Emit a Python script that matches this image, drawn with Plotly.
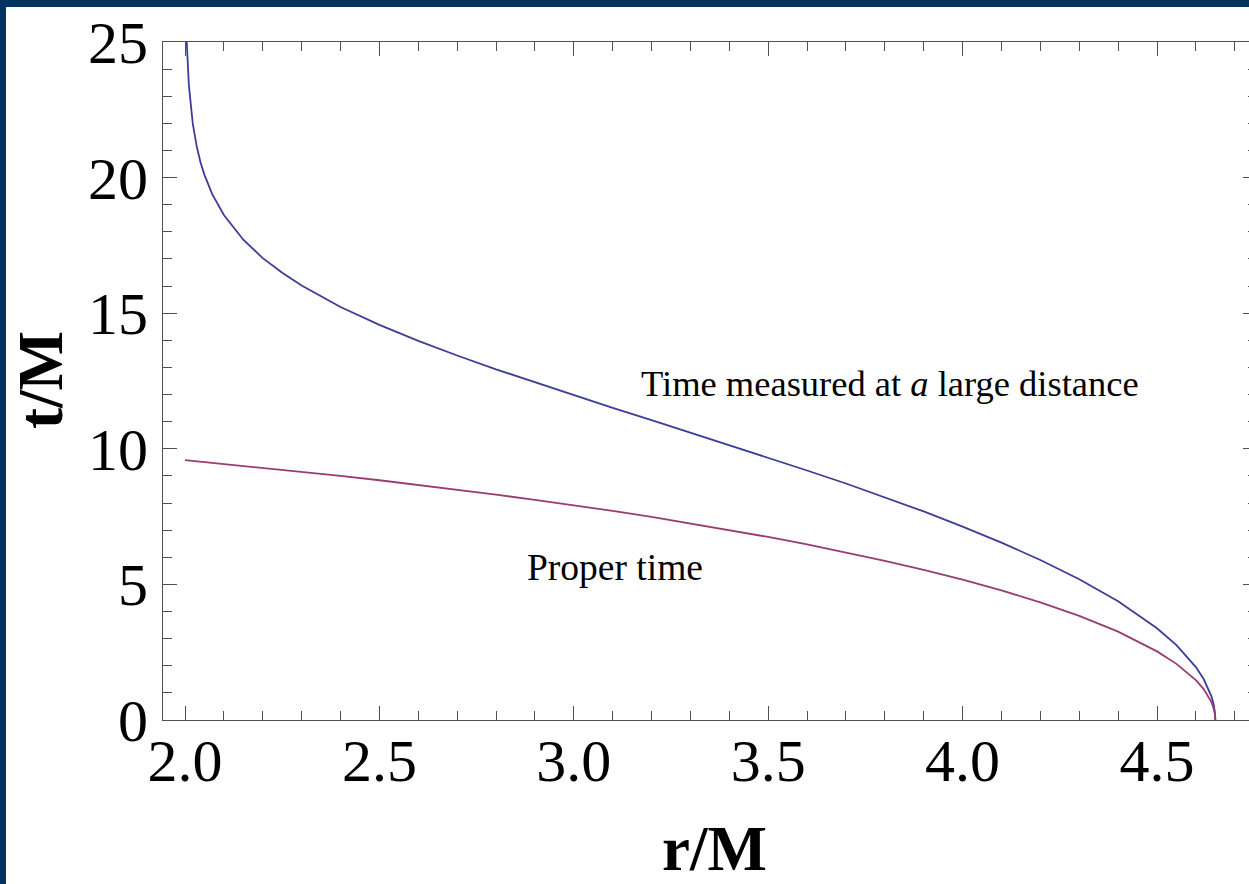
import plotly.graph_objects as go

# ---- data ----
r_coord = [2.0045, 2.005, 2.01, 2.02, 2.03, 2.04, 2.05, 2.07, 2.1, 2.15,
           2.2, 2.25, 2.3, 2.4, 2.5, 2.6, 2.7, 2.8, 2.9, 3.0,
           3.1, 3.2, 3.3, 3.4, 3.5, 3.6, 3.7, 3.8, 3.9, 4.0,
           4.1, 4.2, 4.3, 4.4, 4.5, 4.55, 4.6, 4.62, 4.64, 4.645,
           4.649, 4.65]
t_coord = [25.00, 24.79, 23.39, 21.99, 21.16, 20.56, 20.10, 19.39, 18.62, 17.71,
           17.03, 16.49, 16.02, 15.23, 14.57, 13.98, 13.44, 12.93, 12.45, 11.98,
           11.51, 11.06, 10.60, 10.14, 9.68, 9.20, 8.72, 8.21, 7.69, 7.13,
           6.54, 5.90, 5.19, 4.38, 3.38, 2.76, 1.95, 1.51, 0.87, 0.62,
           0.28, 0.0]

r_proper = [2.0, 2.05, 2.1, 2.2, 2.3, 2.4, 2.5, 2.6, 2.7, 2.8,
            2.9, 3.0, 3.1, 3.2, 3.3, 3.4, 3.5, 3.6, 3.7, 3.8,
            3.9, 4.0, 4.1, 4.2, 4.3, 4.4, 4.5, 4.55, 4.6, 4.62,
            4.64, 4.645, 4.649, 4.65]
tau_proper = [9.58, 9.51, 9.44, 9.30, 9.15, 9.00, 8.84, 8.67, 8.49, 8.31,
              8.12, 7.92, 7.71, 7.49, 7.25, 7.01, 6.75, 6.48, 6.18, 5.87,
              5.54, 5.18, 4.78, 4.34, 3.84, 3.26, 2.53, 2.07, 1.47, 1.14,
              0.66, 0.46, 0.21, 0.0]

x_ticks = [2.0, 2.5, 3.0, 3.5, 4.0, 4.5]
x_ticklabels = ["2.0", "2.5", "3.0", "3.5", "4.0", "4.5"]
y_ticks = [0, 5, 10, 15, 20, 25]
y_ticklabels = ["0", "5", "10", "15", "20", "25"]

label_far = "Time measured at <i>a</i> large distance"
label_proper = "Proper time"
label_far_pos = (3.813, 12.39)
label_proper_pos = (3.107, 5.64)
x_title = "r/M"
y_title = "t/M"

# ---- layout constants ----
W, H = 1249, 884
ML, MR, MT, MB = 163, 0, 42, 164
BORDER = "#02335f"
SERIF = "Liberation Serif"
AXIS_COL = "#505050"

pw = W - ML - MR
ph = H - MT - MB

fig = go.Figure()
fig.add_trace(go.Scatter(x=r_coord, y=t_coord, mode="lines",
                         line=dict(color="#3d3d99", width=1.8),
                         showlegend=False, hoverinfo="skip"))
fig.add_trace(go.Scatter(x=r_proper, y=tau_proper, mode="lines",
                         line=dict(color="#993d71", width=1.8),
                         showlegend=False, hoverinfo="skip"))
# empty trace to carry the right-hand (mirrored) tick axis
fig.add_trace(go.Scatter(x=[], y=[], yaxis="y2", showlegend=False, hoverinfo="skip"))

fig.add_annotation(x=label_far_pos[0], y=label_far_pos[1], text=label_far,
                   showarrow=False, xanchor="center", yanchor="middle",
                   font=dict(family=SERIF, size=36.5, color="black"))
fig.add_annotation(x=label_proper_pos[0], y=label_proper_pos[1], text=label_proper,
                   showarrow=False, xanchor="center", yanchor="middle",
                   font=dict(family=SERIF, size=37.5, color="black"))

# axis titles
fig.add_annotation(xref="paper", yref="paper", x=(714 - ML) / pw, y=(H - MB - 849) / ph,
                   text=x_title, showarrow=False, xanchor="center", yanchor="middle",
                   font=dict(family=SERIF, size=63, color="black", weight="bold"))
fig.add_annotation(xref="paper", yref="paper", x=(41 - ML) / pw, y=(H - MB - 380) / ph,
                   text=y_title, showarrow=False, xanchor="center", yanchor="middle",
                   textangle=-90,
                   font=dict(family=SERIF, size=63, color="black", weight="bold"))

# slide border (top and left)
fig.add_shape(type="rect", xref="paper", yref="paper", layer="above",
              x0=-ML / pw - 0.02, x1=1 + 0.02,
              y0=1 + (MT - 7) / ph, y1=1 + MT / ph + 0.02,
              fillcolor=BORDER, line=dict(width=0))
fig.add_shape(type="rect", xref="paper", yref="paper", layer="above",
              x0=-ML / pw - 0.02, x1=-(ML - 6) / pw,
              y0=-MB / ph - 0.02, y1=1 + MT / ph + 0.02,
              fillcolor=BORDER, line=dict(width=0))

px_per_unit = 388.8
x_lo = 2.0 - (185 - ML) / px_per_unit
x_hi = 2.0 + (W - MR - 185) / px_per_unit

fig.update_xaxes(range=[x_lo, x_hi], tickvals=x_ticks, ticktext=x_ticklabels,
                 ticks="inside", ticklen=14, tickwidth=1, tickcolor=AXIS_COL,
                 minor=dict(dtick=0.1, tick0=2.0, ticks="inside", ticklen=9,
                            tickwidth=1, tickcolor=AXIS_COL, showgrid=False),
                 showline=True, linecolor=AXIS_COL, linewidth=1, mirror="ticks",
                 showgrid=False, zeroline=False,
                 tickfont=dict(family=SERIF, size=60, color="black"),
                 ticklabelstandoff=-12)
fig.update_layout(
    yaxis=dict(range=[0, 25], tickvals=y_ticks, ticktext=y_ticklabels,
               ticks="inside", ticklen=14, tickwidth=1, tickcolor=AXIS_COL,
               minor=dict(dtick=1, tick0=0, ticks="inside", ticklen=9,
                          tickwidth=1, tickcolor=AXIS_COL, showgrid=False),
               showline=True, linecolor=AXIS_COL, linewidth=1, mirror=False,
               showgrid=False, zeroline=False,
               tickfont=dict(family=SERIF, size=60, color="black"),
               ticklabelstandoff=2),
    yaxis2=dict(overlaying="y", side="right", range=[0, 25], tickvals=y_ticks,
                ticks="inside", ticklen=6, tickwidth=1, tickcolor=AXIS_COL,
                minor=dict(dtick=1, tick0=0, ticks="inside", ticklen=1.5,
                           tickwidth=1, tickcolor=AXIS_COL, showgrid=False),
                showticklabels=False, showline=False, showgrid=False, zeroline=False),
)

fig.update_layout(width=W, height=H, margin=dict(l=ML, r=MR, t=MT, b=MB, pad=0),
                  paper_bgcolor="white", plot_bgcolor="white", showlegend=False)

fig.write_html("out.html", config={"displayModeBar": False},
               post_script="document.body.style.margin='0px';document.body.style.padding='0px';")
